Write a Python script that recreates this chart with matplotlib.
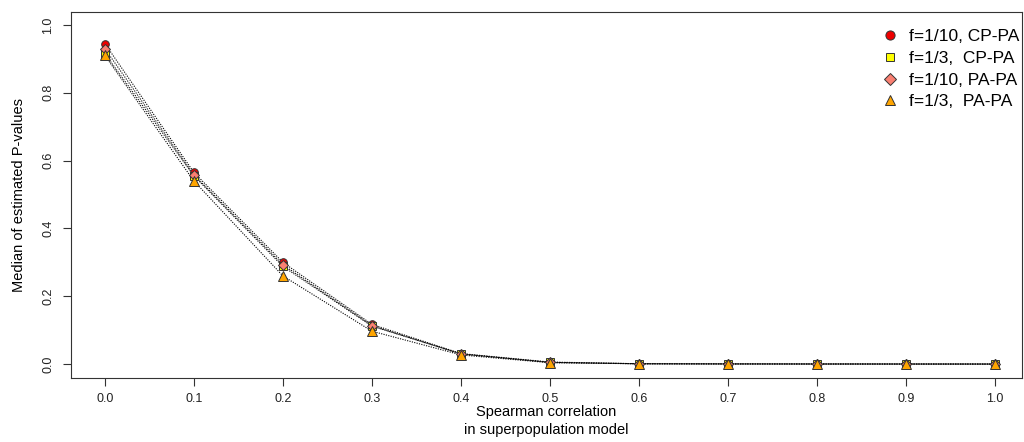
import matplotlib
matplotlib.use("Agg")
import matplotlib.pyplot as plt
import numpy as np

plt.rcParams['font.family'] = ['Liberation Sans', 'DejaVu Sans']

rho = [0.0, 0.1, 0.2, 0.3, 0.4, 0.5, 0.6, 0.7, 0.8, 0.9, 1.0]
cp_f10 = [0.945, 0.565, 0.300, 0.117, 0.031, 0.006, 0.001, 0.0005, 0.0003, 0.0002, 0.0001]
cp_f3 = [0.915, 0.555, 0.288, 0.112, 0.030, 0.005, 0.001, 0.0005, 0.0003, 0.0002, 0.0001]
pa_f10 = [0.930, 0.558, 0.293, 0.113, 0.030, 0.005, 0.001, 0.0005, 0.0003, 0.0002, 0.0001]
pa_f3 = [0.910, 0.540, 0.260, 0.097, 0.027, 0.004, 0.001, 0.0005, 0.0003, 0.0002, 0.0001]
labels = ["f=1/10, CP-PA", "f=1/3,  CP-PA", "f=1/10, PA-PA", "f=1/3,  PA-PA"]
xticks = [0.0, 0.1, 0.2, 0.3, 0.4, 0.5, 0.6, 0.7, 0.8, 0.9, 1.0]
yticks = [0.0, 0.2, 0.4, 0.6, 0.8, 1.0]

series = [cp_f10, cp_f3, pa_f10, pa_f3]
markers = ['o', 's', 'D', '^']
colors = ['#EE0000', '#FFFF00', '#FA8072', '#FFA500']
msizes = [5.5, 5.2, 4.8, 6.5]

fig = plt.figure(figsize=(10.24, 4.42), dpi=100)
ax = fig.add_axes([0.0693, 0.1448, 0.9287, 0.8281])

for s in series:
    ax.plot(rho, s, linestyle=(0, (1, 1.2)), color='black', linewidth=0.8, zorder=2)

handles = []
for s, m, c, ms, lab in zip(series, markers, colors, msizes, labels):
    h, = ax.plot(rho, s, linestyle='none', marker=m, markerfacecolor=c,
                 markeredgecolor='#333333', markeredgewidth=0.7, markersize=ms,
                 label=lab, zorder=3)
    handles.append(h)

ax.set_xlim(-0.038, 1.030)
ax.set_ylim(-0.041, 1.038)
ax.set_xticks(xticks)
ax.set_xticklabels([f"{v:.1f}" for v in xticks])
ax.set_yticks(yticks)
ax.set_yticklabels([f"{v:.1f}" for v in yticks], rotation=90, va='center')
ax.tick_params(direction='out', length=6, width=0.8, colors='#333333', labelsize=9,
               labelcolor='#222222')
ax.tick_params(axis='x', pad=5)
ax.tick_params(axis='y', pad=6)
for sp in ax.spines.values():
    sp.set_color('#333333')
    sp.set_linewidth(0.8)

ax.set_xlabel("Spearman correlation\nin superpopulation model", fontsize=10.5, labelpad=0,
              linespacing=1.3)
ax.set_ylabel("Median of estimated P-values", fontsize=10.5, labelpad=12)

leg = ax.legend(handles=handles, loc='upper right', frameon=False, fontsize=12.5,
                handlelength=1.0, handletextpad=0.6, labelspacing=0.38,
                borderaxespad=0.2, bbox_to_anchor=(1.008, 0.982), markerscale=1.2)

fig.savefig("out.png", dpi=100)
